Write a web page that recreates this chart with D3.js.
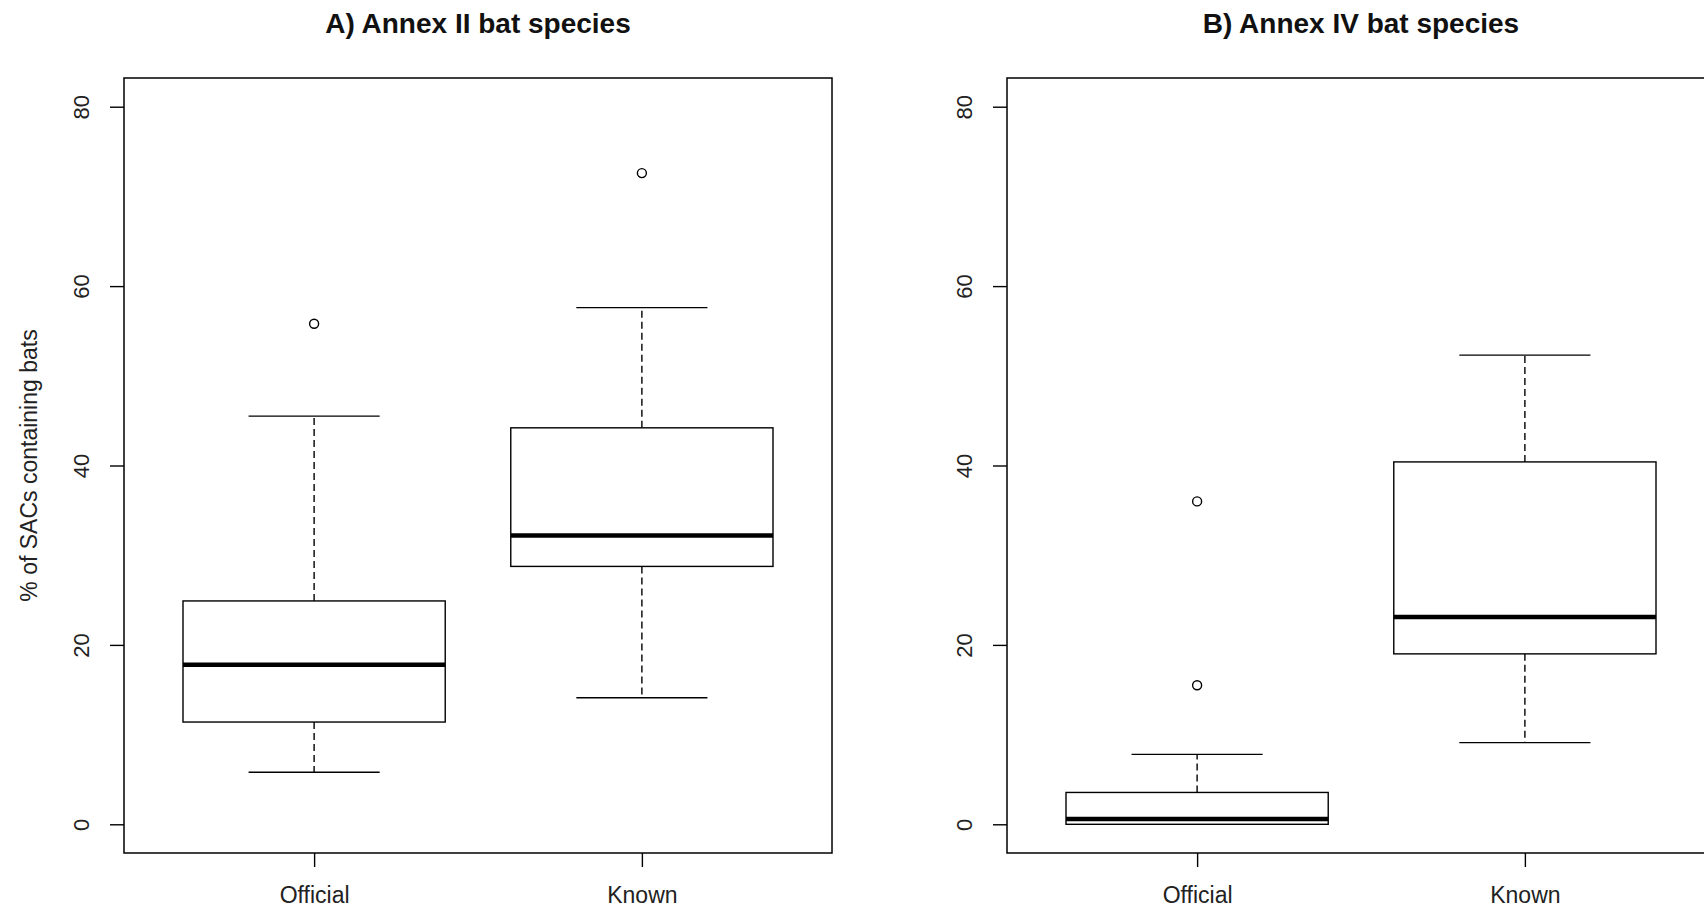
<!DOCTYPE html>
<html>
<head>
    <meta charset="utf-8">
    <title>Bat species in SACs</title>
    <script src="https://d3js.org/d3.v7.min.js"></script>
    <style>
        body { margin: 0; background: #fff; }
        svg { display: block; font-family: "Liberation Sans", Arial, sans-serif; }
    </style>
</head>
<body>
<script>
    // groups on the x axis, same for both panels
    const groups = ["Official", "Known"];
    const panelTitles = ["A) Annex II bat species", "B) Annex IV bat species"];
    const yTicks = [0, 20, 40, 60, 80];

    // boxplot stats per group: [lower whisker, Q1, median, Q3, upper whisker]
    const annexIIStats = [
        [5.8, 11.4, 17.8, 24.9, 45.5],
        [14.1, 28.75, 32.2, 44.2, 57.6]
    ];
    const annexIIOutliers = [[55.8], [72.6]];

    const annexIVStats = [
        [0, 0, 0.6, 3.55, 7.8],
        [9.1, 19.0, 23.1, 40.4, 52.3]
    ];
    const annexIVOutliers = [[36.0, 15.5], []];

    const width = 1704;
    const height = 910;
    const panelW = 708;
    const plotTop = 78, plotBottom = 853;
    const panelLefts = [124, 1007];

    const svg = d3.select("body").append("svg")
        .attr("width", width)
        .attr("height", height);

    // R style: ylim 0..80 extended by 4%
    const y = d3.scaleLinear().domain([-3.2, 83.2]).range([plotBottom, plotTop]);

    function drawPanel(left, title, stats, outliers, showYLabel) {
        const x = d3.scaleLinear().domain([0.42, 2.58]).range([left, left + panelW]);
        const boxHalf = x(1.4) - x(1);   // boxwex 0.8
        const capHalf = boxHalf / 2;     // staplewex 0.5

        const g = svg.append("g");

        stats.forEach((s, i) => {
            const cx = x(i + 1);
            const [lo, q1, med, q3, hi] = s;

            // whiskers
            [[q3, hi], [q1, lo]].forEach(([a, b]) => {
                g.append("line")
                    .attr("x1", cx).attr("x2", cx)
                    .attr("y1", y(a)).attr("y2", y(b))
                    .attr("stroke", "#000").attr("stroke-width", 1.4)
                    .attr("stroke-dasharray", "7,4");
            });

            // caps
            [lo, hi].forEach(v => {
                g.append("line")
                    .attr("x1", cx - capHalf).attr("x2", cx + capHalf)
                    .attr("y1", y(v)).attr("y2", y(v))
                    .attr("stroke", "#000").attr("stroke-width", 1.4);
            });

            g.append("rect")
                .attr("x", cx - boxHalf)
                .attr("y", y(q3))
                .attr("width", boxHalf * 2)
                .attr("height", y(q1) - y(q3))
                .attr("fill", "#fff")
                .attr("stroke", "#000")
                .attr("stroke-width", 1.4);

            g.append("line")
                .attr("x1", cx - boxHalf).attr("x2", cx + boxHalf)
                .attr("y1", y(med)).attr("y2", y(med))
                .attr("stroke", "#000").attr("stroke-width", 4.5);

            g.selectAll(null)
                .data(outliers[i])
                .enter()
                .append("circle")
                .attr("cx", cx)
                .attr("cy", d => y(d))
                .attr("r", 4.5)
                .attr("fill", "none")
                .attr("stroke", "#000")
                .attr("stroke-width", 1.4);
        });

        // frame
        g.append("rect")
            .attr("x", left).attr("y", plotTop)
            .attr("width", panelW).attr("height", plotBottom - plotTop)
            .attr("fill", "none")
            .attr("stroke", "#000")
            .attr("stroke-width", 1.5);

        // y axis
        const yAxis = g.append("g")
            .attr("transform", `translate(${left},0)`)
            .call(d3.axisLeft(y).tickValues(yTicks).tickSize(14).tickPadding(0));
        yAxis.select(".domain").remove();
        yAxis.selectAll(".tick line").attr("stroke", "#000").attr("stroke-width", 1.4);
        yAxis.selectAll(".tick text")
            .attr("font-size", 22)
            .attr("fill", "#222")
            .attr("text-anchor", "middle")
            .attr("x", null)
            .attr("dy", null)
            .attr("transform", "translate(-35,0) rotate(-90)")
            .attr("y", 0);

        // x axis
        const xAxis = g.append("g")
            .attr("transform", `translate(0,${plotBottom})`)
            .call(d3.axisBottom(x).tickValues([1, 2]).tickFormat(d => groups[d - 1]).tickSize(14).tickPadding(20));
        xAxis.select(".domain").remove();
        xAxis.selectAll(".tick line").attr("stroke", "#000").attr("stroke-width", 1.4);
        xAxis.selectAll(".tick text")
            .attr("font-size", 23)
            .attr("fill", "#222");

        // title
        svg.append("text")
            .attr("x", left + panelW / 2)
            .attr("y", 33)
            .attr("text-anchor", "middle")
            .attr("font-size", 28)
            .attr("font-weight", "bold")
            .attr("fill", "#111")
            .text(title);

        if (showYLabel) {
            svg.append("text")
                .attr("transform", `translate(37,${(plotTop + plotBottom) / 2}) rotate(-90)`)
                .attr("text-anchor", "middle")
                .attr("font-size", 23)
                .attr("fill", "#222")
                .text("% of SACs containing bats");
        }
    }

    drawPanel(panelLefts[0], panelTitles[0], annexIIStats, annexIIOutliers, true);
    drawPanel(panelLefts[1], panelTitles[1], annexIVStats, annexIVOutliers, false);
</script>
</body>
</html>
